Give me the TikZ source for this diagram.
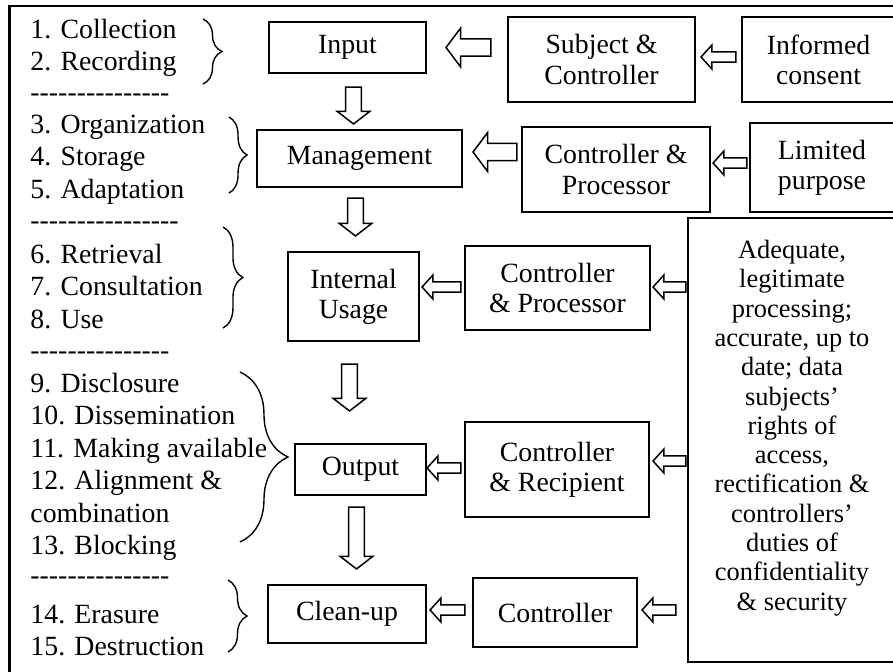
\documentclass[tikz,border=0pt]{standalone}
\usepackage{fontspec}
\setmainfont{Liberation Serif}
\usetikzlibrary{calc, decorations.pathreplacing}
\tikzset{
    every node/.style={inner sep=0pt},
    wh/.style 2 args={minimum width=#1*0.4315pt, minimum height=#2*0.4315pt},
    box/.style={draw, line width=.9pt, align=center,
        font=\fontsize{12}{13}\selectfont},
    steps/.style={anchor=north west, align=left,
        font=\fontsize{12}{14}\selectfont},
    dashrow/.style={anchor=base west, font=\fontsize{12}{14}\selectfont},
    curly/.style={decorate, decoration={brace, amplitude=#1}, line width=.6pt},
    blockarr/.style={draw, line width=.65pt, fill=white},
}
% hollow block arrow: tail, head, half shaft, half head, head length
\newcommand{\blockarrow}[5]{%
    \coordinate (bah) at ($(#2)!#5!(#1)$);
    \draw[blockarr] ($(#1)!#3!90:(#2)$) -- ($(bah)!#3!90:(#2)$)
        -- ($(bah)!#4!90:(#2)$) -- (#2) -- ($(bah)!#4!-90:(#2)$)
        -- ($(bah)!#3!-90:(#2)$) -- ($(#1)!#3!-90:(#2)$) -- cycle;
}
\newcommand{\bigarrow}[2]{\blockarrow{#1}{#2}{3.7pt}{8.4pt}{6.3pt}}
\newcommand{\smallarrow}[2]{\blockarrow{#1}{#2}{2.2pt}{5.2pt}{4.7pt}}
% from, to, gap at from, gap at to, shift, size
\newcommand{\harrow}[6]{%
    \coordinate (tail) at ($(#1.west |- #2.center)+(-#3,#5)$);
    \coordinate (head) at ($(#2.east)+(#4,#5)$);
    #6{tail}{head}}
% from, to, x shift, gap at from, gap at to
\newcommand{\varrow}[5]{%
    \coordinate (tail) at ($(#1.south)+(#3,#4)$);
    \coordinate (head) at ($(tail |- #2.north)+(0,-#5)$);
    \blockarrow{tail}{head}{3.4pt}{7pt}{5.4pt}}
\newcommand{\dashes}[1]{\foreach \d in {1,...,#1}{\mbox{-}}}

\begin{document}
\begin{tikzpicture}[x=0.4315pt, y=-0.4315pt]
    \useasboundingbox (0,0) rectangle (893,671);
    \draw[line width=1.1pt] (9.5,6) rectangle (905,690);

    % stages
    \node[box, wh={157}{51}] (inp) at (347.5,47.5) {Input};
    \node[box, wh={205}{57}] (mgmt) at (359.5,158.5) {Management};
    \node[box, wh={131}{89}] (iu) at (353.5,296.5) {Internal\\Usage};
    \node[box, wh={131}{51}] (outp) at (360.5,469.5) {Output};
    \node[box, wh={158}{58}] (clean) at (347,614) {Clean-up};

    % actors and principles
    \node[box, wh={187}{85}] (subj) at (601.5,59.5) {Subject \&\\Controller};
    \node[box, wh={153}{85}] (cons) at (818.5,59.5) {Informed\\consent};
    \node[box, wh={188}{85}] (cp1) at (616,169.5) {Controller \&\\Processor};
    \node[box, wh={144}{89}] (lim) at (822,167.5) {Limited\\purpose};
    \node[box, wh={185}{84}] (cp2) at (557.5,288) {Controller\\\& Processor};
    \node[box, wh={184}{95}] (crec) at (557,469.5) {Controller\\\& Recipient};
    \node[box, wh={164}{69}] (ctrl) at (555,612.5) {Controller};
    \node[box, wh={208}{444}, font=\fontsize{11.4}{12.65}\selectfont,
        text depth=12.8pt] (big) at (792,440)
        {Adequate,\\legitimate\\processing;\\accurate, up to\\date; data\\
        subjects’\\rights of\\access,\\rectification \&\\controllers’\\
        duties of\\confidentiality\\\& security};

    % operations
    \node[steps] (ops1) at (30,15) {\strut 1. Collection\\2. Recording};
    \node[dashrow] (sep1) at (30,101.5) {\dashes{15}};
    \node[steps] (ops2) at (30,110.3)
        {\strut 3. Organization\\4. Storage\\5. Adaptation};
    \node[dashrow] (sep2) at (30,229.5) {\dashes{16}};
    \node[steps] (ops3) at (30,240.3)
        {\strut 6. Retrieval\\7. Consultation\\8. Use};
    \node[dashrow] (sep3) at (30,359.5) {\dashes{15}};
    \node[steps] (ops4) at (30,369.3)
        {\strut 9. Disclosure\\10. Dissemination\\11. Making available\\
        12. Alignment \&\\combination\\13. Blocking};
    \node[dashrow] (sep4) at (30,584.5) {\dashes{15}};
    \node[steps] (ops5) at (30,600.3) {\strut 14. Erasure\\15. Destruction};

    \draw[curly=8.2pt] (203,19) -- (203,84);
    \draw[curly=7.8pt] (229,117) -- (229,193);
    \draw[curly=8.6pt] (223,227) -- (223,328);
    \draw[curly=20.7pt] (240,372) -- (240,542);
    \draw[curly=8.2pt] (228,580) -- (228,652);

    % flow
    \varrow{inp}{mgmt}{6}{13}{5}
    \varrow{mgmt}{iu}{-4}{10}{15}
    \varrow{iu}{outp}{-4}{22}{32}
    \varrow{outp}{clean}{-4}{11}{15}

    \harrow{subj}{inp}{16}{19}{0}{\bigarrow}
    \harrow{cons}{subj}{5}{5}{-2.5}{\smallarrow}
    \harrow{cp1}{mgmt}{4}{10}{-6.5}{\bigarrow}
    \harrow{lim}{cp1}{2}{2}{-6.5}{\smallarrow}
    \harrow{big}{cp2}{1}{2}{-1}{\smallarrow}
    \harrow{cp2}{iu}{3}{2}{-9.5}{\smallarrow}
    \harrow{big}{crec}{1}{3}{-8.5}{\smallarrow}
    \harrow{crec}{outp}{3}{0}{-1.5}{\smallarrow}
    \harrow{big}{ctrl}{11}{4}{-2.5}{\smallarrow}
    \harrow{ctrl}{clean}{7}{3}{-4}{\smallarrow}
\end{tikzpicture}
\end{document}
